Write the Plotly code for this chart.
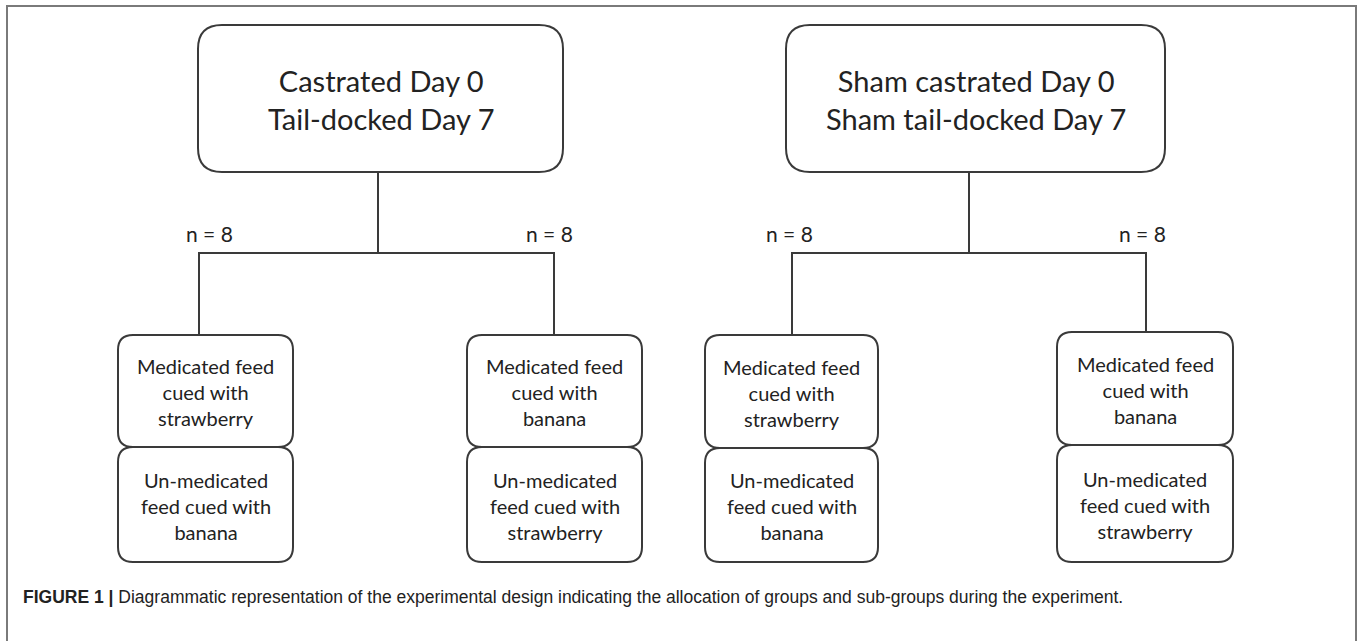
import plotly.graph_objects as go

# ---- content ----
group_titles = [
    ["Castrated Day 0", "Tail-docked Day 7"],
    ["Sham castrated Day 0", "Sham tail-docked Day 7"],
]
n_labels = ["n = 8", "n = 8", "n = 8", "n = 8"]
upper_labels = [
    ["Medicated feed", "cued with", "strawberry"],
    ["Medicated feed", "cued with", "banana"],
    ["Medicated feed", "cued with", "strawberry"],
    ["Medicated feed", "cued with", "banana"],
]
lower_labels = [
    ["Un-medicated", "feed cued with", "banana"],
    ["Un-medicated", "feed cued with", "strawberry"],
    ["Un-medicated", "feed cued with", "banana"],
    ["Un-medicated", "feed cued with", "strawberry"],
]
caption_bold = "FIGURE 1 |"
caption_text = ("Diagrammatic representation of the experimental design indicating the "
                "allocation of groups and sub-groups during the experiment.")

# ---- layout geometry (pixels) ----
W, H = 1357, 641
top_boxes = [(198, 25, 563, 172), (786, 25, 1165, 172)]
stems_x = [378, 969]
bar_y = 253
bars = [(199, 554), (792, 1146)]
small_boxes = [  # x0, x1, top, mid, bottom
    (118, 293, 335, 447, 562),
    (467, 642, 335, 447, 562),
    (705, 878, 335, 448, 562),
    (1057, 1233, 332, 445, 562),
]
drop_x = [199, 554, 792, 1146]
n_pos = [(209, 233), (549, 233), (789, 233), (1142, 233)]

LINE = "#3a3a3a"
TEXT = "#222222"
FONT = "Lato, 'Open Sans', sans-serif"


def rrect(x0, y0, x1, y1, r):
    return (f"M{x0+r},{y0} L{x1-r},{y0} Q{x1},{y0} {x1},{y0+r} "
            f"L{x1},{y1-r} Q{x1},{y1} {x1-r},{y1} L{x0+r},{y1} "
            f"Q{x0},{y1} {x0},{y1-r} L{x0},{y0+r} Q{x0},{y0} {x0+r},{y0} Z")


shapes = []
annotations = []

# outer frame (open at bottom)
shapes.append(dict(type="path", path=f"M7,{H} L7,6 L1356,6 L1356,{H}",
                   line=dict(color="#7a7a7a", width=2)))

for (x0, y0, x1, y1), lines, sx, (bx0, bx1) in zip(top_boxes, group_titles, stems_x, bars):
    shapes.append(dict(type="path", path=rrect(x0, y0, x1, y1, 24),
                       line=dict(color=LINE, width=2), fillcolor="white"))
    annotations.append(dict(x=(x0 + x1) / 2, y=(y0 + y1) / 2 + 1, text="<br>".join(lines),
                            showarrow=False, xanchor="center", yanchor="middle",
                            font=dict(family=FONT, size=29, color=TEXT)))
    shapes.append(dict(type="line", x0=sx, x1=sx, y0=y1, y1=bar_y,
                       line=dict(color=LINE, width=2)))
    shapes.append(dict(type="line", x0=bx0 - 1, x1=bx1 + 1, y0=bar_y, y1=bar_y,
                       line=dict(color=LINE, width=2)))

for (x0, x1, t, m, b), dx, up, lo, (nx, ny), nl in zip(
        small_boxes, drop_x, upper_labels, lower_labels, n_pos, n_labels):
    shapes.append(dict(type="line", x0=dx, x1=dx, y0=bar_y, y1=t,
                       line=dict(color=LINE, width=2)))
    shapes.append(dict(type="path", path=rrect(x0, t, x1, m, 15),
                       line=dict(color=LINE, width=2), fillcolor="white"))
    shapes.append(dict(type="path", path=rrect(x0, m, x1, b, 15),
                       line=dict(color=LINE, width=2), fillcolor="white"))
    annotations.append(dict(x=(x0 + x1) / 2, y=(t + m) / 2 + 1, text="<br>".join(up),
                            showarrow=False, xanchor="center", yanchor="middle",
                            font=dict(family=FONT, size=20, color=TEXT)))
    annotations.append(dict(x=(x0 + x1) / 2, y=(m + b) / 2 + 1, text="<br>".join(lo),
                            showarrow=False, xanchor="center", yanchor="middle",
                            font=dict(family=FONT, size=20, color=TEXT)))
    annotations.append(dict(x=nx, y=ny, text=nl, showarrow=False,
                            xanchor="center", yanchor="middle",
                            font=dict(family=FONT, size=21, color=TEXT)))

annotations.append(dict(x=21, y=597,
                        text=f"<b>{caption_bold}</b> {caption_text}",
                        showarrow=False, xanchor="left", yanchor="middle",
                        font=dict(family="'Liberation Sans Narrow', 'Arial Narrow', 'Liberation Sans', Arial, sans-serif",
                                  size=17.5, color="#222222")))

fig = go.Figure()
fig.update_layout(
    width=W, height=H,
    margin=dict(l=0, r=0, t=0, b=0),
    paper_bgcolor="white", plot_bgcolor="white",
    xaxis=dict(range=[0, W], visible=False, fixedrange=True),
    yaxis=dict(range=[H, 0], visible=False, fixedrange=True),
    shapes=shapes, annotations=annotations, showlegend=False,
)
fig.write_html("out.html", config={"displayModeBar": False},
               post_script="document.body.style.margin='0';document.body.style.overflow='hidden';")
